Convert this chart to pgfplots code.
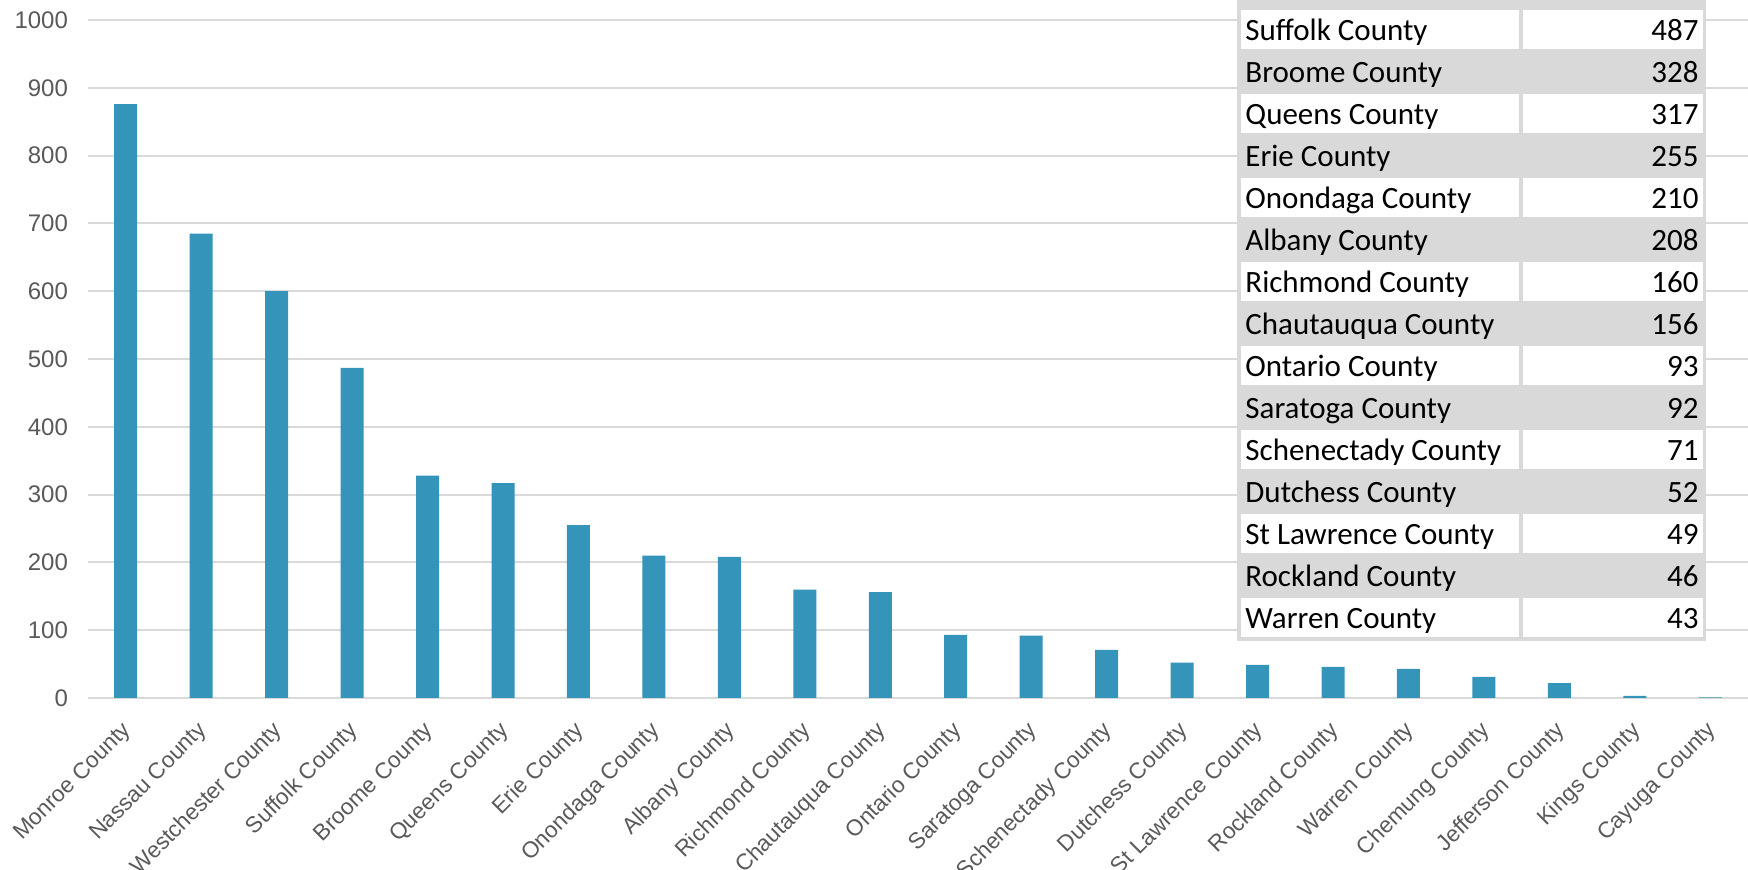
\documentclass[border=0pt]{standalone}
\usepackage{pgfplots}
\pgfplotsset{compat=1.18}
\usepackage{fontspec}
\setmainfont{Liberation Sans}
\newfontfamily\calibri{Carlito}
\definecolor{barblue}{HTML}{3494BA}
\definecolor{gridgray}{HTML}{D9D9D9}
\definecolor{labgray}{HTML}{595959}
\definecolor{cellgray}{HTML}{D9D9D9}
\begin{document}
\begin{tikzpicture}[x=0.5pt,y=0.5pt]
\useasboundingbox (0,0) rectangle (1748,870);
\begin{axis}[
  at={(44pt,86pt)}, anchor=south west,
  scale only axis, width=830pt, height=339pt,
  xmin=-0.5, xmax=21.5, ymin=0, ymax=1000,
  ytick={0,100,...,1000},
  xtick={0,...,21},
  xticklabels={Monroe County,Nassau County,Westchester County,Suffolk County,Broome County,Queens County,Erie County,Onondaga County,Albany County,Richmond County,Chautauqua County,Ontario County,Saratoga County,Schenectady County,Dutchess County,St Lawrence County,Rockland County,Warren County,Chemung County,Jefferson County,Kings County,Cayuga County},
  ymajorgrids, grid style={gridgray, line width=1pt},
  axis line style={draw=none},
  major tick length=0pt, tick style={draw=none},
  /pgf/number format/assume math mode=true,
  /pgf/number format/1000 sep={},
  yticklabel style={font=\fontsize{12pt}{14pt}\selectfont, text=labgray, xshift=-6.5pt},
  xticklabel style={font=\fontsize{11.3pt}{13pt}\selectfont, text=labgray, xshift=3.6pt, yshift=-12.3pt, rotate=45, anchor=east},
  ybar, bar width=11.5pt,
  clip=false,
]
\addplot[fill=barblue, draw=none] coordinates {
(0,876) (1,685) (2,600) (3,487) (4,328) (5,317) (6,255) (7,210) (8,208) (9,160) (10,156)
(11,93) (12,92) (13,71) (14,52) (15,49) (16,46) (17,43) (18,31) (19,22) (20,3) (21,1)};
\end{axis}
% overlay table
\fill[cellgray] (1237,910) rectangle (1706,229);
\foreach \nm/\v [count=\i from 0] in {Suffolk County/487,Broome County/328,Queens County/317,Erie County/255,Onondaga County/210,Albany County/208,Richmond County/160,Chautauqua County/156,Ontario County/93,Saratoga County/92,Schenectady County/71,Dutchess County/52,St Lawrence County/49,Rockland County/46,Warren County/43}{
  \pgfmathsetmacro{\yb}{870-40.5-42*\i}
  \pgfmathsetmacro{\yt}{870-10-42*\i}
  \pgfmathsetmacro{\ybt}{870-49-42*\i}
  \ifodd\i\else
    \fill[white] (1241,\yt) rectangle (1519,\ybt);
    \fill[white] (1523,\yt) rectangle (1703,\ybt);
  \fi
  \node[anchor=base west, inner sep=0pt, font=\calibri\fontsize{15.5pt}{18pt}\selectfont] at (1245,\yb) {\nm};
  \node[anchor=base east, inner sep=0pt, font=\calibri\fontsize{15.5pt}{18pt}\selectfont] at (1699,\yb) {\v};
}
\end{tikzpicture}
\end{document}
